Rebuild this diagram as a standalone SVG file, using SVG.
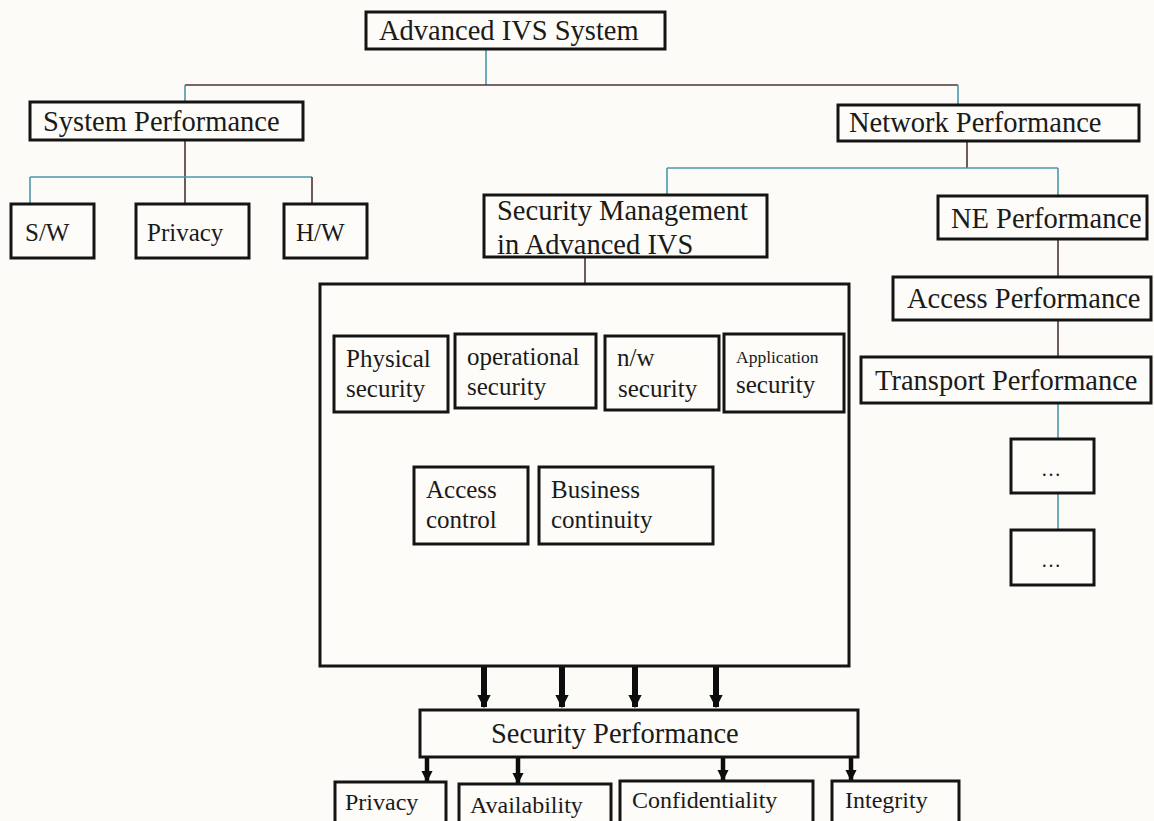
<svg xmlns="http://www.w3.org/2000/svg" width="1154" height="821" viewBox="0 0 1154 821">
<defs>
<style>
.bx{fill:#fdfcf9;stroke:#141414;stroke-width:3}
.t{font-family:"Liberation Serif","Times New Roman",serif;fill:#1a1a1a}
.big{font-size:28.5px}
.mid{font-size:25px}
.sm{font-size:24px}
.teal{stroke:#4a98ad;stroke-width:1.6;fill:none}
.dark{stroke:#4a3434;stroke-width:1.6;fill:none}
.arr{stroke:#0d0d0d;stroke-width:6;fill:none}
.arr2{stroke:#0d0d0d;stroke-width:4.5;fill:none}
</style>
<marker id="ah" viewBox="0 0 10 10" refX="9" refY="5" markerWidth="2.2" markerHeight="2.2" orient="auto" markerUnits="strokeWidth">
<path d="M0,0 L10,5 L0,10 z" fill="#0d0d0d"/>
</marker>
<marker id="ah2" viewBox="0 0 10 10" refX="9" refY="5" markerWidth="2.5" markerHeight="2.5" orient="auto" markerUnits="strokeWidth">
<path d="M0,0 L10,5 L0,10 z" fill="#0d0d0d"/>
</marker>
</defs>
<rect width="1154" height="821" fill="#fcfbf7"/>

<g id="connectors">
<line class="teal" x1="486" y1="49" x2="486" y2="85"/>
<line class="dark" x1="185" y1="85" x2="958" y2="85"/>
<line class="teal" x1="185" y1="85" x2="185" y2="102"/>
<line class="teal" x1="958" y1="85" x2="958" y2="105"/>
<line class="dark" x1="185" y1="140" x2="185" y2="204"/>
<line class="teal" x1="30" y1="177" x2="312" y2="177"/>
<line class="teal" x1="30" y1="177" x2="30" y2="204"/>
<line class="dark" x1="312" y1="177" x2="312" y2="204"/>
<line class="dark" x1="967" y1="141" x2="967" y2="168"/>
<line class="teal" x1="667" y1="168" x2="1058" y2="168"/>
<line class="teal" x1="667" y1="168" x2="667" y2="195"/>
<line class="teal" x1="1058" y1="168" x2="1058" y2="196"/>
<line class="dark" x1="585" y1="257" x2="585" y2="284"/>
<line class="dark" x1="1058" y1="239" x2="1058" y2="277"/>
<line class="dark" x1="1058" y1="320" x2="1058" y2="357"/>
<line class="teal" x1="1058" y1="403" x2="1058" y2="439"/>
<line class="teal" x1="1058" y1="493" x2="1058" y2="530"/>
<line class="arr" x1="484" y1="667" x2="484" y2="707" marker-end="url(#ah)"/>
<line class="arr" x1="562" y1="667" x2="562" y2="707" marker-end="url(#ah)"/>
<line class="arr" x1="635" y1="667" x2="635" y2="707" marker-end="url(#ah)"/>
<line class="arr" x1="716" y1="667" x2="716" y2="707" marker-end="url(#ah)"/>
<line class="arr2" x1="427" y1="758" x2="427" y2="781" marker-end="url(#ah2)"/>
<line class="arr2" x1="518" y1="758" x2="518" y2="783" marker-end="url(#ah2)"/>
<line class="arr2" x1="723" y1="758" x2="723" y2="780" marker-end="url(#ah2)"/>
<line class="arr2" x1="851" y1="758" x2="851" y2="780" marker-end="url(#ah2)"/>
</g>

<g id="advanced-ivs-system"><rect class="bx" x="366" y="12" width="299" height="37"/><text class="t big" x="379" y="40">Advanced IVS System</text></g>
<g id="system-performance"><rect class="bx" x="30" y="102" width="273" height="38"/><text class="t big" x="43" y="131">System Performance</text></g>
<g id="network-performance"><rect class="bx" x="838" y="105" width="301" height="36"/><text class="t big" x="849" y="132">Network Performance</text></g>
<g id="sw"><rect class="bx" x="11" y="204" width="83" height="54"/><text class="t mid" x="25" y="241">S/W</text></g>
<g id="privacy-sys"><rect class="bx" x="136" y="204" width="113" height="54"/><text class="t mid" x="147" y="241">Privacy</text></g>
<g id="hw"><rect class="bx" x="284" y="204" width="83" height="54"/><text class="t mid" x="296" y="241">H/W</text></g>
<g id="security-management"><rect class="bx" x="484" y="195" width="283" height="62"/><text class="t big" x="497" y="220">Security Management</text><text class="t big" x="497" y="254">in Advanced IVS</text></g>
<g id="ne-performance"><rect class="bx" x="938" y="196" width="209" height="43"/><text class="t big" x="951" y="228">NE Performance</text></g>
<g id="access-performance"><rect class="bx" x="893" y="277" width="258" height="43"/><text class="t big" x="907" y="308">Access Performance</text></g>
<g id="transport-performance"><rect class="bx" x="861" y="357" width="290" height="46"/><text class="t big" x="875" y="390">Transport Performance</text></g>
<g id="dots1"><rect class="bx" x="1011" y="439" width="83" height="54"/><text class="t" font-size="20" x="1041" y="476">…</text></g>
<g id="dots2"><rect class="bx" x="1011" y="530" width="83" height="55"/><text class="t" font-size="20" x="1041" y="567">…</text></g>

<g id="security-container"><rect class="bx" x="320" y="284" width="529" height="382"/></g>
<g id="physical-security"><rect class="bx" x="334" y="336" width="114" height="76"/><text class="t mid" x="346" y="367">Physical</text><text class="t mid" x="346" y="397">security</text></g>
<g id="operational-security"><rect class="bx" x="455" y="334" width="141" height="74"/><text class="t mid" x="467" y="365">operational</text><text class="t mid" x="467" y="395">security</text></g>
<g id="nw-security"><rect class="bx" x="605" y="336" width="114" height="74"/><text class="t mid" x="617" y="366">n/w</text><text class="t mid" x="618" y="397">security</text></g>
<g id="application-security"><rect class="bx" x="724" y="334" width="120" height="78"/><text class="t" font-size="17.5" x="736" y="363">Application</text><text class="t mid" x="736" y="393">security</text></g>
<g id="access-control"><rect class="bx" x="414" y="467" width="114" height="77"/><text class="t mid" x="426" y="498">Access</text><text class="t mid" x="426" y="528">control</text></g>
<g id="business-continuity"><rect class="bx" x="539" y="467" width="174" height="77"/><text class="t mid" x="551" y="498">Business</text><text class="t mid" x="551" y="528">continuity</text></g>

<g id="security-performance"><rect class="bx" x="420" y="710" width="438" height="47"/><text class="t big" x="491" y="743">Security Performance</text></g>
<g id="privacy"><rect class="bx" x="335" y="782" width="111" height="45"/><text class="t sm" x="345" y="810">Privacy</text></g>
<g id="availability"><rect class="bx" x="459" y="784" width="152" height="45"/><text class="t sm" x="470" y="813">Availability</text></g>
<g id="confidentiality"><rect class="bx" x="620" y="781" width="193" height="45"/><text class="t sm" x="632" y="808">Confidentiality</text></g>
<g id="integrity"><rect class="bx" x="832" y="781" width="127" height="45"/><text class="t sm" x="845" y="808">Integrity</text></g>
</svg>
